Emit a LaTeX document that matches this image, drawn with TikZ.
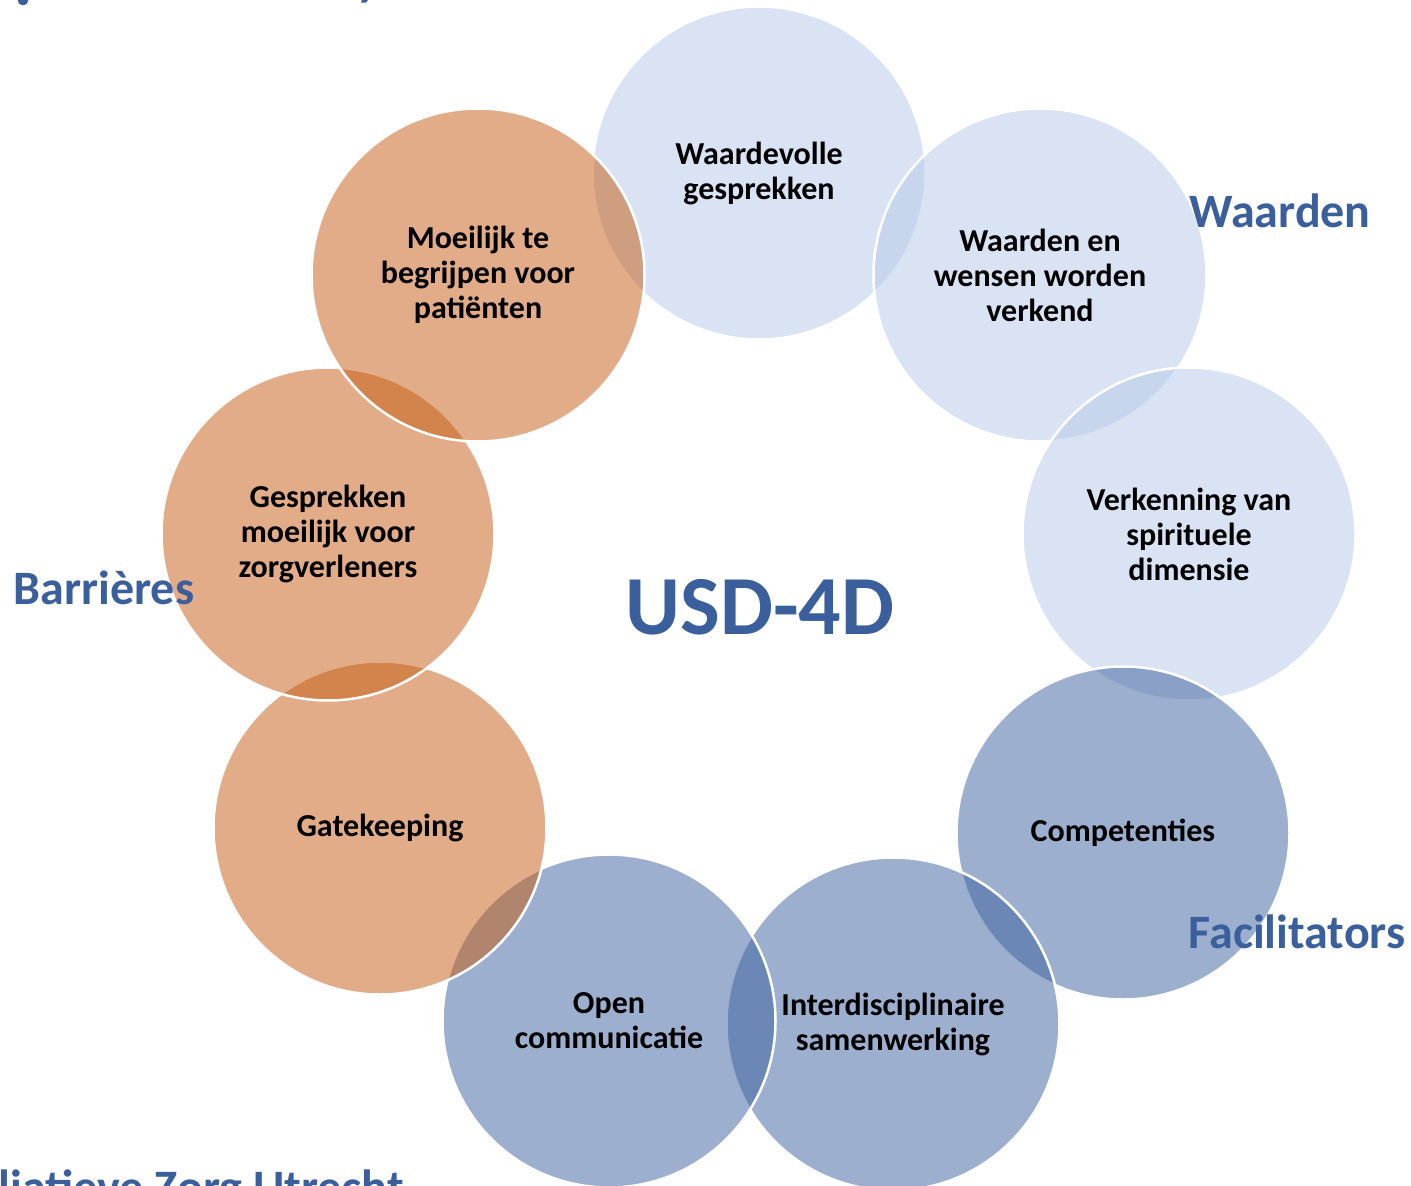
\documentclass[tikz,border=0pt]{standalone}
\usepackage{fontspec}
\setmainfont{Carlito}
\definecolor{lb}{RGB}{180,199,231}
\definecolor{db}{RGB}{59,95,157}
\definecolor{og}{RGB}{197,90,17}
\definecolor{tb}{RGB}{59,95,157}
\begin{document}
\begin{tikzpicture}[x=1pt,y=-1pt,
  bub/.style={circle, minimum size=333pt, inner sep=0pt, draw=white, line width=2.5pt,
    fill opacity=0.5, text opacity=1, align=center, text=black,
    font=\fontsize{32}{35}\selectfont\bfseries},
  light/.style={bub, fill=lb},
  dark/.style={bub, fill=db},
  orange/.style={bub, fill=og},
  lab/.style={text=tb, font=\fontsize{48}{52}\selectfont\bfseries, inner sep=0pt}]
\useasboundingbox (0,0) rectangle (1411,1186);
% circles in drawing order (clockwise from top)
\node[light]  (c1) at (759,173)  {Waardevolle\\gesprekken};
\node[light]  (c2) at (1040,275) {Waarden en\\wensen worden\\verkend};
\node[light]  (c3) at (1189,534) {Verkenning van\\spirituele\\dimensie};
\node[dark]   (c4) at (1123,833) {Competenties};
\node[dark]   (c5) at (893,1024) {Interdisciplinaire\\samenwerking};
\node[dark]   (c6) at (609,1021) {Open\\communicatie};
\node[orange] (c7) at (380,828)  {Gatekeeping};
\node[orange] (c8) at (328,534)  {Gesprekken\\moeilijk voor\\zorgverleners};
\node[orange] (c9) at (478,275)  {Moeilijk te\\begrijpen voor\\patiënten};
% labels
\node[text=tb, font=\fontsize{84}{90}\selectfont\bfseries, inner sep=0pt] (usd) at (760,607) {USD-4D};
\node[lab] (waarden) at (1280,211) {Waarden};
\node[lab] (barr) at (104,588) {Barrières};
\node[lab] (faci) at (1297,932) {Facilitators};
\node[lab, anchor=base east] (title) at (404,1203) {Palliatieve Zorg Utrecht};
% fragments of cut-off title at top
\fill[tb, rounded corners=4pt] (18,-12) rectangle (28,5);
\fill[tb] (362,0) -- (368,0) -- (366,2.5) -- (361,2.5) -- cycle;
\end{tikzpicture}
\end{document}
